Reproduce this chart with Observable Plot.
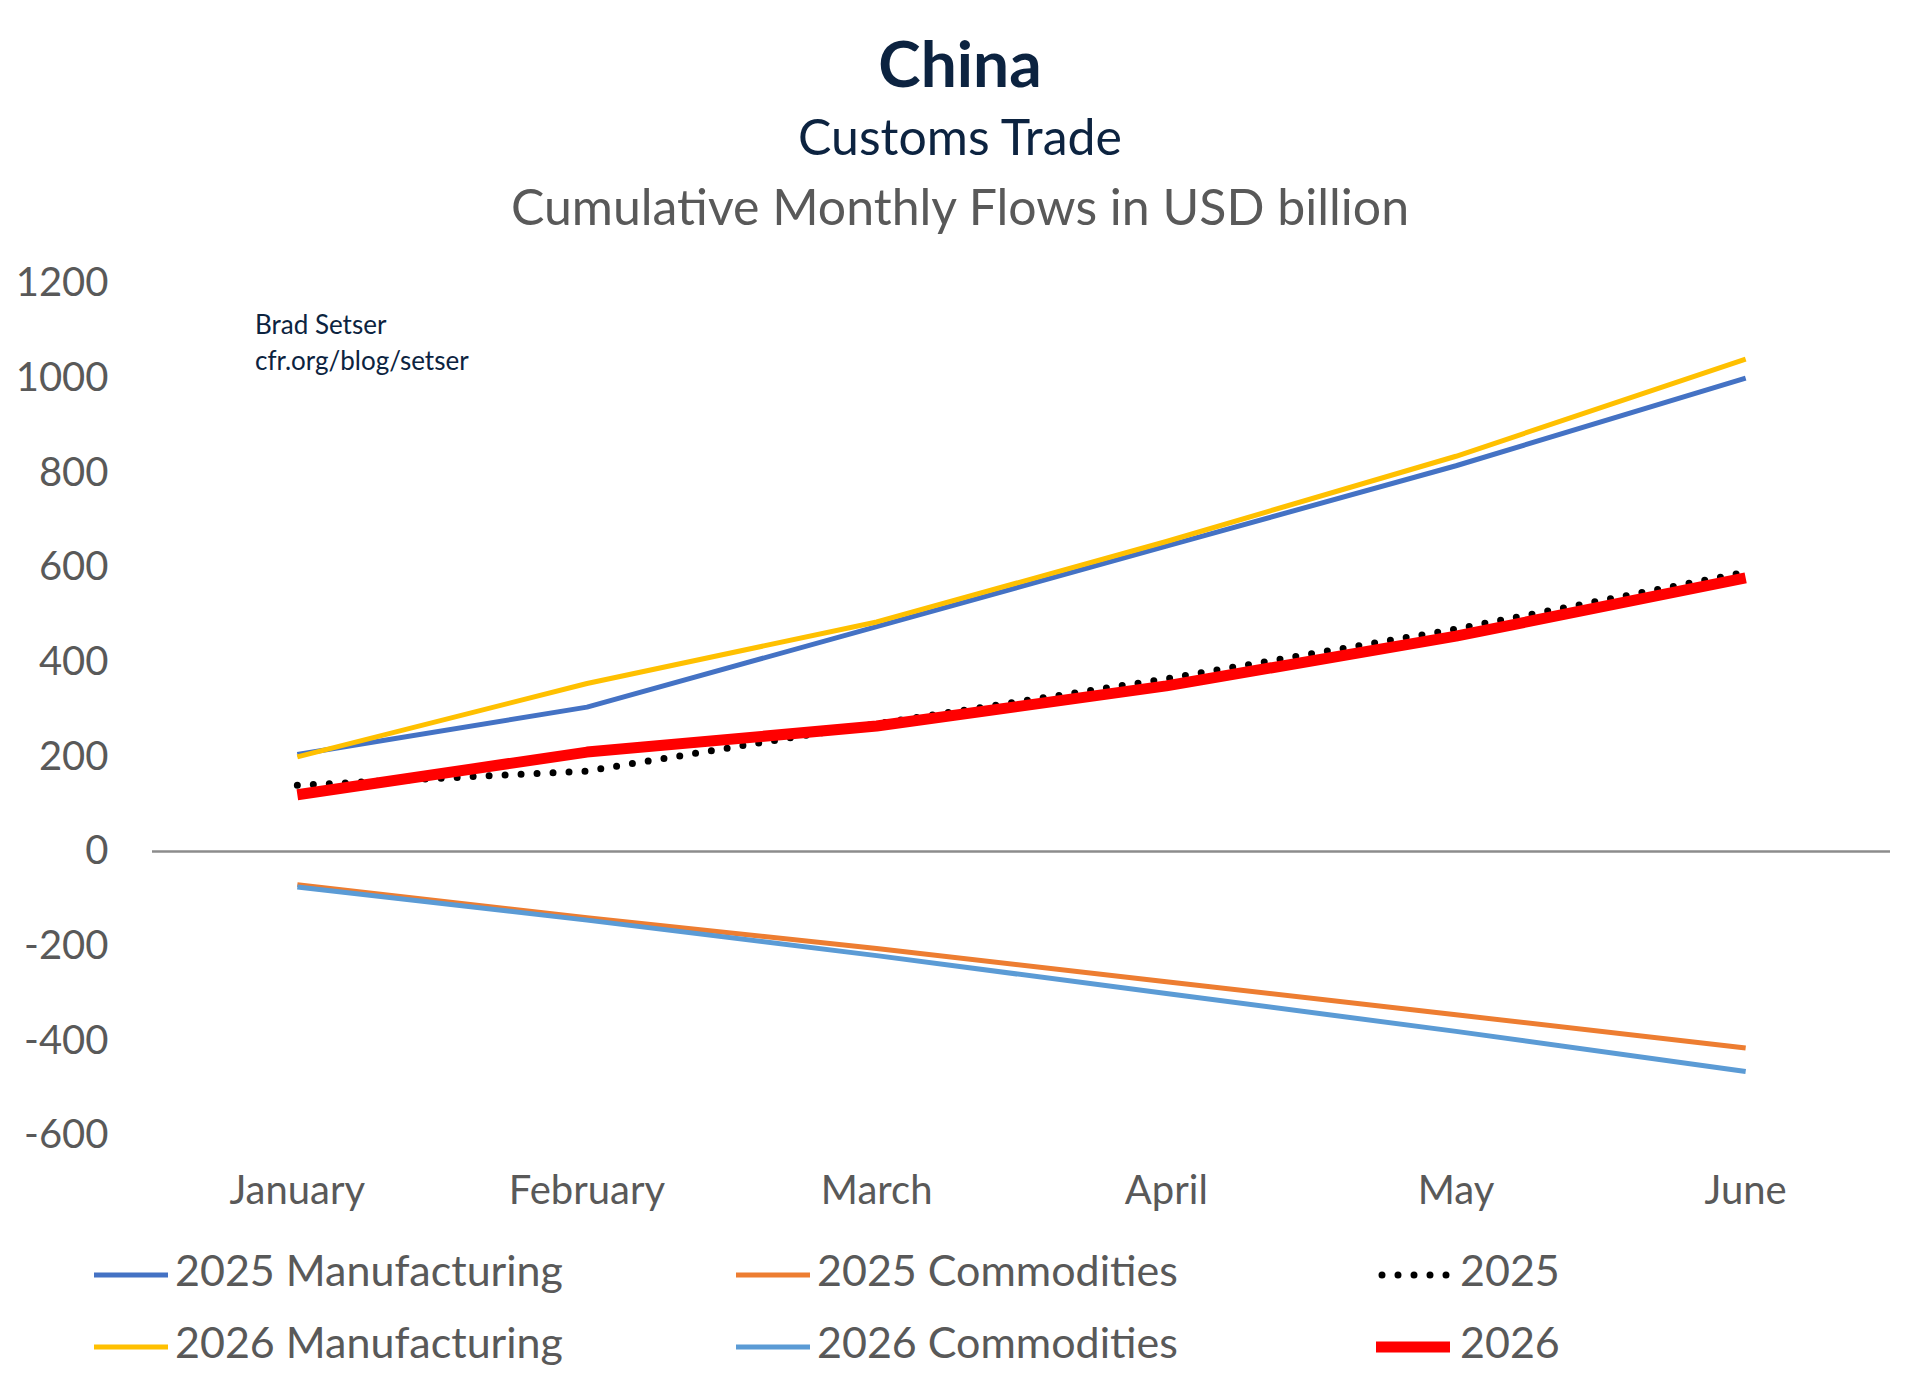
<!DOCTYPE html>
<html><head><meta charset="utf-8">
<script src="https://cdn.jsdelivr.net/npm/d3@7"></script>
<script src="https://cdn.jsdelivr.net/npm/@observablehq/plot@0.6"></script>
<style>
body{margin:0;background:#fff;font-family:Lato,"Noto Sans",sans-serif;}
#wrap{position:relative;width:1920px;height:1393px;}
.t{position:absolute;left:0;width:1920px;text-align:center;}
#chart{position:absolute;left:0;top:240px;}
.lg{position:absolute;font-size:43px;color:#595959;line-height:1;}
.sw{position:absolute;}
</style></head><body>
<div id="wrap">
<div class="t" style="top:24px;font-size:64px;font-weight:bold;color:#0c2340;">China</div>
<div class="t" style="top:106px;font-size:50px;color:#0c2340;">Customs Trade</div>
<div class="t" style="top:176px;font-size:50px;color:#595959;">Cumulative Monthly Flows in USD billion</div>
<div id="chart"></div>
<div style="position:absolute;left:255px;top:306px;font-size:26px;color:#0c2340;line-height:36px;">Brad Setser<br>cfr.org/blog/setser</div>
<div id="legend"></div>
</div>
<script>
const months = ["January","February","March","April","May","June"];
const mfg2025 = [205, 305, 475, 645, 815, 1000];
const mfg2026 = [200, 355, 485, 655, 835, 1040];
const com2025 = [-70, -140, -205, -275, -345, -415];
const com2026 = [-75, -145, -220, -300, -380, -465];
const tot2025 = [140, 170, 270, 365, 470, 590];
const tot2026 = [120, 210, 265, 350, 455, 578];
const yTicks = [-600,-400,-200,0,200,400,600,800,1000,1200];

const series = [
  {name:"2025 Manufacturing", v:mfg2025, color:"#4472C4", w:5},
  {name:"2025 Commodities", v:com2025, color:"#ED7D31", w:5},
  {name:"2025", v:tot2025, color:"#000", w:7, dash:"0 16"},
  {name:"2026 Manufacturing", v:mfg2026, color:"#FFC000", w:5},
  {name:"2026 Commodities", v:com2026, color:"#5B9BD5", w:5},
  {name:"2026", v:tot2026, color:"#FF0000", w:11}
];
const drawOrder = [1,4,0,3,2,5];
const marks = [
  Plot.ruleY([0], {stroke:"#8c8c8c", strokeWidth:2.5}),
  Plot.axisY({ticks:yTicks, tickSize:0, tickPadding:44, fontSize:40, fill:"#595959", color:"#595959", label:null, tickFormat:d=>String(d)}),
  Plot.axisX({ticks:[0,1,2,3,4,5], tickSize:0, tickPadding:40, fontSize:40, fill:"#595959", label:null, tickFormat:i=>months[i]})
];
for (const k of drawOrder) {
  const s = series[k];
  const data = s.v.map((y,i)=>({i,y}));
  marks.push(Plot.line(data, {x:"i", y:"y", stroke:s.color, strokeWidth:s.w,
    strokeLinecap: s.dash ? "round" : "butt", strokeDasharray: s.dash || null}));
}
const p = Plot.plot({
  width:1920, height:1000, marginLeft:152, marginRight:30, marginTop:43, marginBottom:105,
  x:{domain:[-0.5,5.5], axis:null}, y:{domain:[-600,1200], axis:null},
  style:{fontFamily:"Lato, 'Noto Sans', sans-serif", background:"#fff"},
  marks
});
document.getElementById("chart").appendChild(p);

const lg = document.getElementById("legend");
const cols = [[94,175],[736,817],[1376,1460]];
const rows = [1275,1347];
series.forEach((s,k)=>{
  const c = cols[k%3], r = rows[Math.floor(k/3)];
  const sw = document.createElementNS("http://www.w3.org/2000/svg","svg");
  sw.setAttribute("class","sw"); sw.setAttribute("width",80); sw.setAttribute("height",20);
  sw.style.left=c[0]+"px"; sw.style.top=(r-10)+"px";
  sw.innerHTML = `<line x1="${s.dash?6:0}" x2="${s.dash?74:74}" y1="10" y2="10" stroke="${s.color}" stroke-width="${s.w}" stroke-linecap="${s.dash?'round':'butt'}" ${s.dash?`stroke-dasharray="${s.dash}"`:""}/>`;
  lg.appendChild(sw);
  const t = document.createElement("div"); t.className="lg"; t.textContent=s.name;
  t.style.left=c[1]+"px"; t.style.top=(r-27)+"px";
  lg.appendChild(t);
});
</script>
</body></html>
